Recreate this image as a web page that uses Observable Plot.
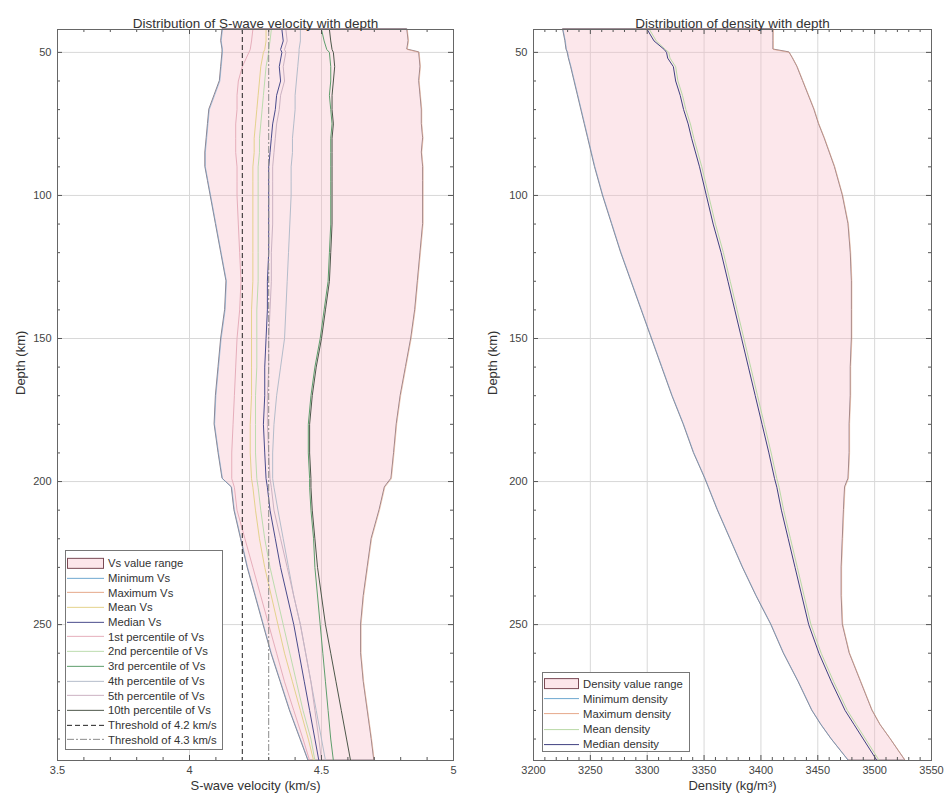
<!DOCTYPE html>
<html><head><meta charset="utf-8">
<script src="https://cdn.jsdelivr.net/npm/d3@7"></script>
<script src="https://cdn.jsdelivr.net/npm/@observablehq/plot@0.6"></script>
<style>
body{margin:0;background:#fff;font-family:"Liberation Sans",Arial,sans-serif;}
#wrap{position:relative;width:944px;height:798px;overflow:hidden;background:#fff;}
.panel{position:absolute;top:0;}
.legend{position:absolute;border:1px solid #777;background:#fff;font-size:11.3px;color:#333;box-sizing:border-box;}
.legend .row{display:flex;align-items:center;white-space:nowrap;}
</style></head><body><div id="wrap"></div>
<script>
// ---------- Data: S-wave velocity (km/s) vs depth (km) ----------
const depthVs = [42, 46, 49, 50, 55, 60, 65, 70, 75, 80, 85, 90, 95, 100, 110, 120, 130, 140, 150, 160, 170, 180, 190, 199, 202, 210, 220, 230, 240, 250, 260, 270, 280, 290, 297.5];
const vsMin    = [4.125, 4.12, 4.125, 4.125, 4.12, 4.115, 4.095, 4.075, 4.07, 4.065, 4.06, 4.06, 4.07, 4.08, 4.10, 4.12, 4.14, 4.135, 4.12, 4.11, 4.10, 4.095, 4.11, 4.125, 4.16, 4.17, 4.195, 4.22, 4.25, 4.28, 4.31, 4.345, 4.38, 4.42, 4.45];
const vsMax    = [4.825, 4.83, 4.825, 4.87, 4.875, 4.87, 4.875, 4.88, 4.88, 4.885, 4.88, 4.885, 4.885, 4.885, 4.885, 4.875, 4.865, 4.855, 4.84, 4.82, 4.80, 4.785, 4.775, 4.765, 4.74, 4.72, 4.69, 4.675, 4.66, 4.65, 4.65, 4.66, 4.675, 4.69, 4.70];
const vsMean   = [4.29, 4.29, 4.285, 4.28, 4.27, 4.265, 4.26, 4.255, 4.25, 4.245, 4.245, 4.24, 4.24, 4.24, 4.24, 4.24, 4.24, 4.235, 4.235, 4.235, 4.235, 4.23, 4.23, 4.235, 4.24, 4.25, 4.265, 4.285, 4.31, 4.335, 4.36, 4.39, 4.42, 4.45, 4.47];
const vsMedian = [4.35, 4.355, 4.345, 4.35, 4.34, 4.345, 4.33, 4.325, 4.315, 4.31, 4.305, 4.30, 4.30, 4.30, 4.30, 4.30, 4.295, 4.295, 4.29, 4.285, 4.285, 4.28, 4.285, 4.29, 4.295, 4.305, 4.325, 4.345, 4.37, 4.395, 4.415, 4.435, 4.455, 4.475, 4.49];
const vsP1     = [4.24, 4.235, 4.23, 4.225, 4.20, 4.185, 4.18, 4.18, 4.175, 4.175, 4.175, 4.18, 4.18, 4.18, 4.185, 4.19, 4.195, 4.19, 4.18, 4.175, 4.17, 4.165, 4.16, 4.16, 4.17, 4.18, 4.21, 4.24, 4.27, 4.30, 4.33, 4.36, 4.395, 4.43, 4.455];
const vsP2     = [4.31, 4.305, 4.30, 4.30, 4.29, 4.285, 4.28, 4.275, 4.27, 4.265, 4.265, 4.26, 4.26, 4.26, 4.26, 4.26, 4.26, 4.255, 4.255, 4.255, 4.25, 4.25, 4.25, 4.255, 4.26, 4.27, 4.285, 4.305, 4.33, 4.355, 4.38, 4.405, 4.43, 4.46, 4.475];
const vsP3     = [4.50, 4.51, 4.52, 4.53, 4.535, 4.535, 4.53, 4.535, 4.54, 4.535, 4.535, 4.535, 4.535, 4.535, 4.535, 4.53, 4.525, 4.51, 4.495, 4.475, 4.46, 4.45, 4.45, 4.455, 4.455, 4.46, 4.47, 4.475, 4.485, 4.495, 4.505, 4.515, 4.525, 4.535, 4.545];
const vsP4     = [4.42, 4.42, 4.415, 4.415, 4.41, 4.405, 4.40, 4.40, 4.395, 4.39, 4.39, 4.385, 4.385, 4.385, 4.38, 4.375, 4.37, 4.365, 4.36, 4.345, 4.33, 4.32, 4.315, 4.315, 4.32, 4.335, 4.355, 4.375, 4.395, 4.42, 4.44, 4.46, 4.48, 4.50, 4.515];
const vsP5     = [4.365, 4.37, 4.36, 4.365, 4.355, 4.36, 4.345, 4.34, 4.33, 4.325, 4.32, 4.315, 4.315, 4.315, 4.315, 4.31, 4.31, 4.305, 4.30, 4.30, 4.295, 4.295, 4.30, 4.305, 4.31, 4.32, 4.345, 4.37, 4.395, 4.42, 4.44, 4.46, 4.475, 4.49, 4.50];
const vsP10    = [4.53, 4.535, 4.54, 4.545, 4.55, 4.545, 4.54, 4.54, 4.545, 4.54, 4.54, 4.54, 4.54, 4.54, 4.54, 4.535, 4.53, 4.515, 4.50, 4.48, 4.465, 4.455, 4.455, 4.46, 4.46, 4.465, 4.475, 4.485, 4.50, 4.515, 4.535, 4.555, 4.575, 4.595, 4.61];
const vsThresholds = [4.2, 4.3];

// ---------- Data: density (kg/m^3) vs depth (km) ----------
const depthRho = [42, 46, 49, 50, 52, 55, 60, 65, 70, 75, 80, 90, 100, 110, 120, 130, 140, 150, 160, 170, 180, 190, 199, 202, 210, 220, 230, 240, 250, 260, 270, 280, 285, 290, 297.5];
const rhoMin    = [3226, 3228, 3229, 3230, 3231, 3233, 3236, 3239, 3242, 3245, 3248, 3254, 3261, 3269, 3277, 3286, 3295, 3304, 3313, 3322, 3332, 3341, 3351, 3354, 3362, 3373, 3384, 3396, 3409, 3420, 3433, 3445, 3453, 3462, 3477];
const rhoMax    = [3411, 3411, 3411, 3425, 3428, 3432, 3437, 3442, 3447, 3451, 3456, 3465, 3472, 3477, 3479, 3480, 3480, 3480, 3479, 3479, 3478, 3478, 3477, 3474, 3473, 3472, 3471, 3471, 3472, 3478, 3488, 3498, 3505, 3514, 3527];
const rhoMedian = [3300, 3306, 3315, 3317, 3318, 3323, 3325, 3329, 3332, 3336, 3339, 3346, 3352, 3358, 3365, 3371, 3377, 3383, 3389, 3395, 3401, 3407, 3412, 3414, 3418, 3424, 3430, 3436, 3442, 3451, 3462, 3474, 3482, 3490, 3502];
const rhoMean   = [3302, 3308, 3316, 3319, 3320, 3325, 3327, 3331, 3334, 3338, 3341, 3348, 3354, 3360, 3367, 3373, 3379, 3385, 3391, 3397, 3403, 3409, 3414, 3416, 3420, 3426, 3432, 3438, 3444, 3453, 3464, 3476, 3484, 3492, 3504];

// ---------- Ticks / labels ----------
const vsMajorTicks = [3.5, 4, 4.5, 5];
const vsMinorTicks = [3.6, 3.7, 3.8, 3.9, 4.1, 4.2, 4.3, 4.4, 4.6, 4.7, 4.8, 4.9];
const rhoMajorTicks = [3200, 3250, 3300, 3350, 3400, 3450, 3500, 3550];
const rhoMinorTicks = d3.range(3210, 3550, 10).filter(v => v % 50 !== 0);
const depthMajorTicks = [50, 100, 150, 200, 250];
const depthMinorTicks = [60, 70, 80, 90, 110, 120, 130, 140, 160, 170, 180, 190, 210, 220, 230, 240, 260, 270, 280, 290];

const vsLabels = ["Vs value range", "Minimum Vs", "Maximum Vs", "Mean Vs", "Median Vs", "1st percentile of Vs", "2nd percentile of Vs", "3rd percentile of Vs", "4th percentile of Vs", "5th percentile of Vs", "10th percentile of Vs", "Threshold of 4.2 km/s", "Threshold of 4.3 km/s"];
const rhoLabels = ["Density value range", "Minimum density", "Maximum density", "Mean density", "Median density"];

// ---------- Styling ----------
const vsKeys = ["min", "max", "mean", "median", "p1", "p2", "p3", "p4", "p5", "p10"];
const vsColors = ["#6fa8d0", "#e6a88a", "#e4d28c", "#4a4c8c", "#e6aebb", "#bcdcae", "#5e9e6c", "#b4bcca", "#cbb2c2", "#4d574a"];
const rhoKeys = ["min", "max", "mean", "median"];
const rhoColors = ["#6fa8d0", "#e6a88a", "#b9d9a6", "#3f4180"];
const threshStyles = [{stroke: "#222", dash: "5,3"}, {stroke: "#8c8c8c", dash: "7,2,2,2"}];

const H = 798, MT = 29, MB = 38;
const frameH = H - MT - MB;

const vsRows = depthVs.map((d, i) => ({depth: d, min: vsMin[i], max: vsMax[i], mean: vsMean[i], median: vsMedian[i], p1: vsP1[i], p2: vsP2[i], p3: vsP3[i], p4: vsP4[i], p5: vsP5[i], p10: vsP10[i]}));
const rhoRows = depthRho.map((d, i) => ({depth: d, min: rhoMin[i], max: rhoMax[i], mean: rhoMean[i], median: rhoMedian[i]}));

function tickMarks(xMajor, xMinor, frameW) {
  const s = {stroke: "#555", strokeWidth: 1};
  return [
    Plot.ruleX(xMajor, {...s, insetTop: frameH - 5}),
    Plot.ruleX(xMajor, {...s, insetBottom: frameH - 5}),
    Plot.ruleX(xMinor, {...s, insetTop: frameH - 3}),
    Plot.ruleX(xMinor, {...s, insetBottom: frameH - 3}),
    Plot.ruleY(depthMajorTicks, {...s, insetRight: frameW - 5}),
    Plot.ruleY(depthMajorTicks, {...s, insetLeft: frameW - 5}),
    Plot.ruleY(depthMinorTicks, {...s, insetRight: frameW - 3}),
    Plot.ruleY(depthMinorTicks, {...s, insetLeft: frameW - 3})
  ];
}

function makePanel({width, ml, mr, xDomain, xMajor, xMinor, xFormat, rows, keys, colors, title, xLabel, yLabelOffset, extra}) {
  const frameW = width - ml - mr;
  return Plot.plot({
    width, height: H,
    marginLeft: ml, marginRight: mr, marginTop: MT, marginBottom: MB,
    style: {fontFamily: "Liberation Sans, Arial, sans-serif", fontSize: "11px", color: "#444", background: "transparent", overflow: "visible"},
    x: {domain: xDomain},
    y: {domain: [42, 297.5], reverse: true},
    marks: [
      Plot.gridX(xMajor, {stroke: "#d8d8d8", strokeOpacity: 1}),
      Plot.gridY(depthMajorTicks, {stroke: "#d8d8d8", strokeOpacity: 1}),
      Plot.areaX(rows, {y: "depth", x1: "min", x2: "max", fill: "#f7b9c5", fillOpacity: 0.34, stroke: "#85717a", strokeWidth: 0.9}),
      ...keys.map((k, i) => Plot.lineX(rows, {x: k, y: "depth", stroke: colors[i], strokeWidth: 1, strokeOpacity: (k === "min" || k === "max") ? 0.55 : 1})),
      ...(extra || []),
      ...tickMarks(xMajor, xMinor, frameW),
      Plot.frame({stroke: "#666"}),
      Plot.axisX(xMajor, {anchor: "bottom", tickSize: 0, tickPadding: 6, tickFormat: xFormat, fontSize: 11, label: null}),
      Plot.axisY(depthMajorTicks, {anchor: "left", tickSize: 0, tickPadding: 6, tickFormat: d => String(d), fontSize: 11, label: null}),
      Plot.text([xLabel], {frameAnchor: "bottom", dy: 29, fontSize: 13, fill: "#333"}),
      Plot.text(["Depth (km)"], {frameAnchor: "left", dx: -(ml - 20), rotate: -90, fontSize: 13, fill: "#333"}),
      Plot.text([title], {frameAnchor: "top", dy: -11, fontSize: 13.5, fill: "#333"})
    ]
  });
}

const wrap = document.getElementById("wrap");

const left = makePanel({
  width: 472, ml: 57, mr: 19, xDomain: [3.5, 5], xMajor: vsMajorTicks, xMinor: vsMinorTicks, xFormat: d => String(d),
  rows: vsRows, keys: vsKeys, colors: vsColors,
  title: "Distribution of S-wave velocity with depth", xLabel: "S-wave velocity (km/s)", yLabelOffset: 43,
  extra: vsThresholds.map((t, i) => Plot.ruleX([t], {stroke: threshStyles[i].stroke, strokeDasharray: threshStyles[i].dash, strokeWidth: 1}))
});
left.classList.add("panel"); left.style.left = "0px";
wrap.appendChild(left);

const right = makePanel({
  width: 472, ml: 61, mr: 13, xDomain: [3200, 3550], xMajor: rhoMajorTicks, xMinor: rhoMinorTicks, xFormat: d => String(d),
  rows: rhoRows, keys: rhoKeys, colors: rhoColors,
  title: "Distribution of density with depth", xLabel: "Density (kg/m³)", yLabelOffset: 42
});
right.classList.add("panel"); right.style.left = "472px";
wrap.appendChild(right);

// ---------- Legends ----------
function legend({left, top, width, height, padTop, rowH, swW, items}) {
  const box = document.createElement("div");
  box.className = "legend";
  Object.assign(box.style, {left: left + "px", top: top + "px", width: width + "px", height: height + "px", paddingTop: padTop + "px"});
  for (const it of items) {
    const row = document.createElement("div");
    row.className = "row";
    row.style.height = rowH + "px";
    const mid = rowH / 2;
    const sw = `<svg width="${swW}" height="${rowH}" style="margin-left:1px;margin-right:4px;flex:none;overflow:visible">` +
      (it.patch
        ? `<rect x="0.5" y="${mid - 5}" width="${swW - 1}" height="10" fill="#fce6ea" stroke="#7a4a55" stroke-width="1"/>`
        : `<line x1="0" x2="${swW}" y1="${mid}" y2="${mid}" stroke="${it.color}" stroke-width="1"${it.dash ? ` stroke-dasharray="${it.dash}"` : ""}/>`) +
      `</svg>`;
    row.innerHTML = sw + `<span>${it.label}</span>`;
    box.appendChild(row);
  }
  wrap.appendChild(box);
}

legend({
  left: 65, top: 550, width: 158, height: 200, padTop: 5, rowH: 14.7, swW: 37,
  items: vsLabels.map((label, i) => i === 0 ? {label, patch: true}
    : i <= 10 ? {label, color: vsColors[i - 1]}
    : {label, color: threshStyles[i - 11].stroke, dash: threshStyles[i - 11].dash})
});

legend({
  left: 542, top: 672, width: 148, height: 80, padTop: 3, rowH: 15.2, swW: 35,
  items: rhoLabels.map((label, i) => i === 0 ? {label, patch: true} : {label, color: rhoColors[i - 1]})
});
</script></body></html>
